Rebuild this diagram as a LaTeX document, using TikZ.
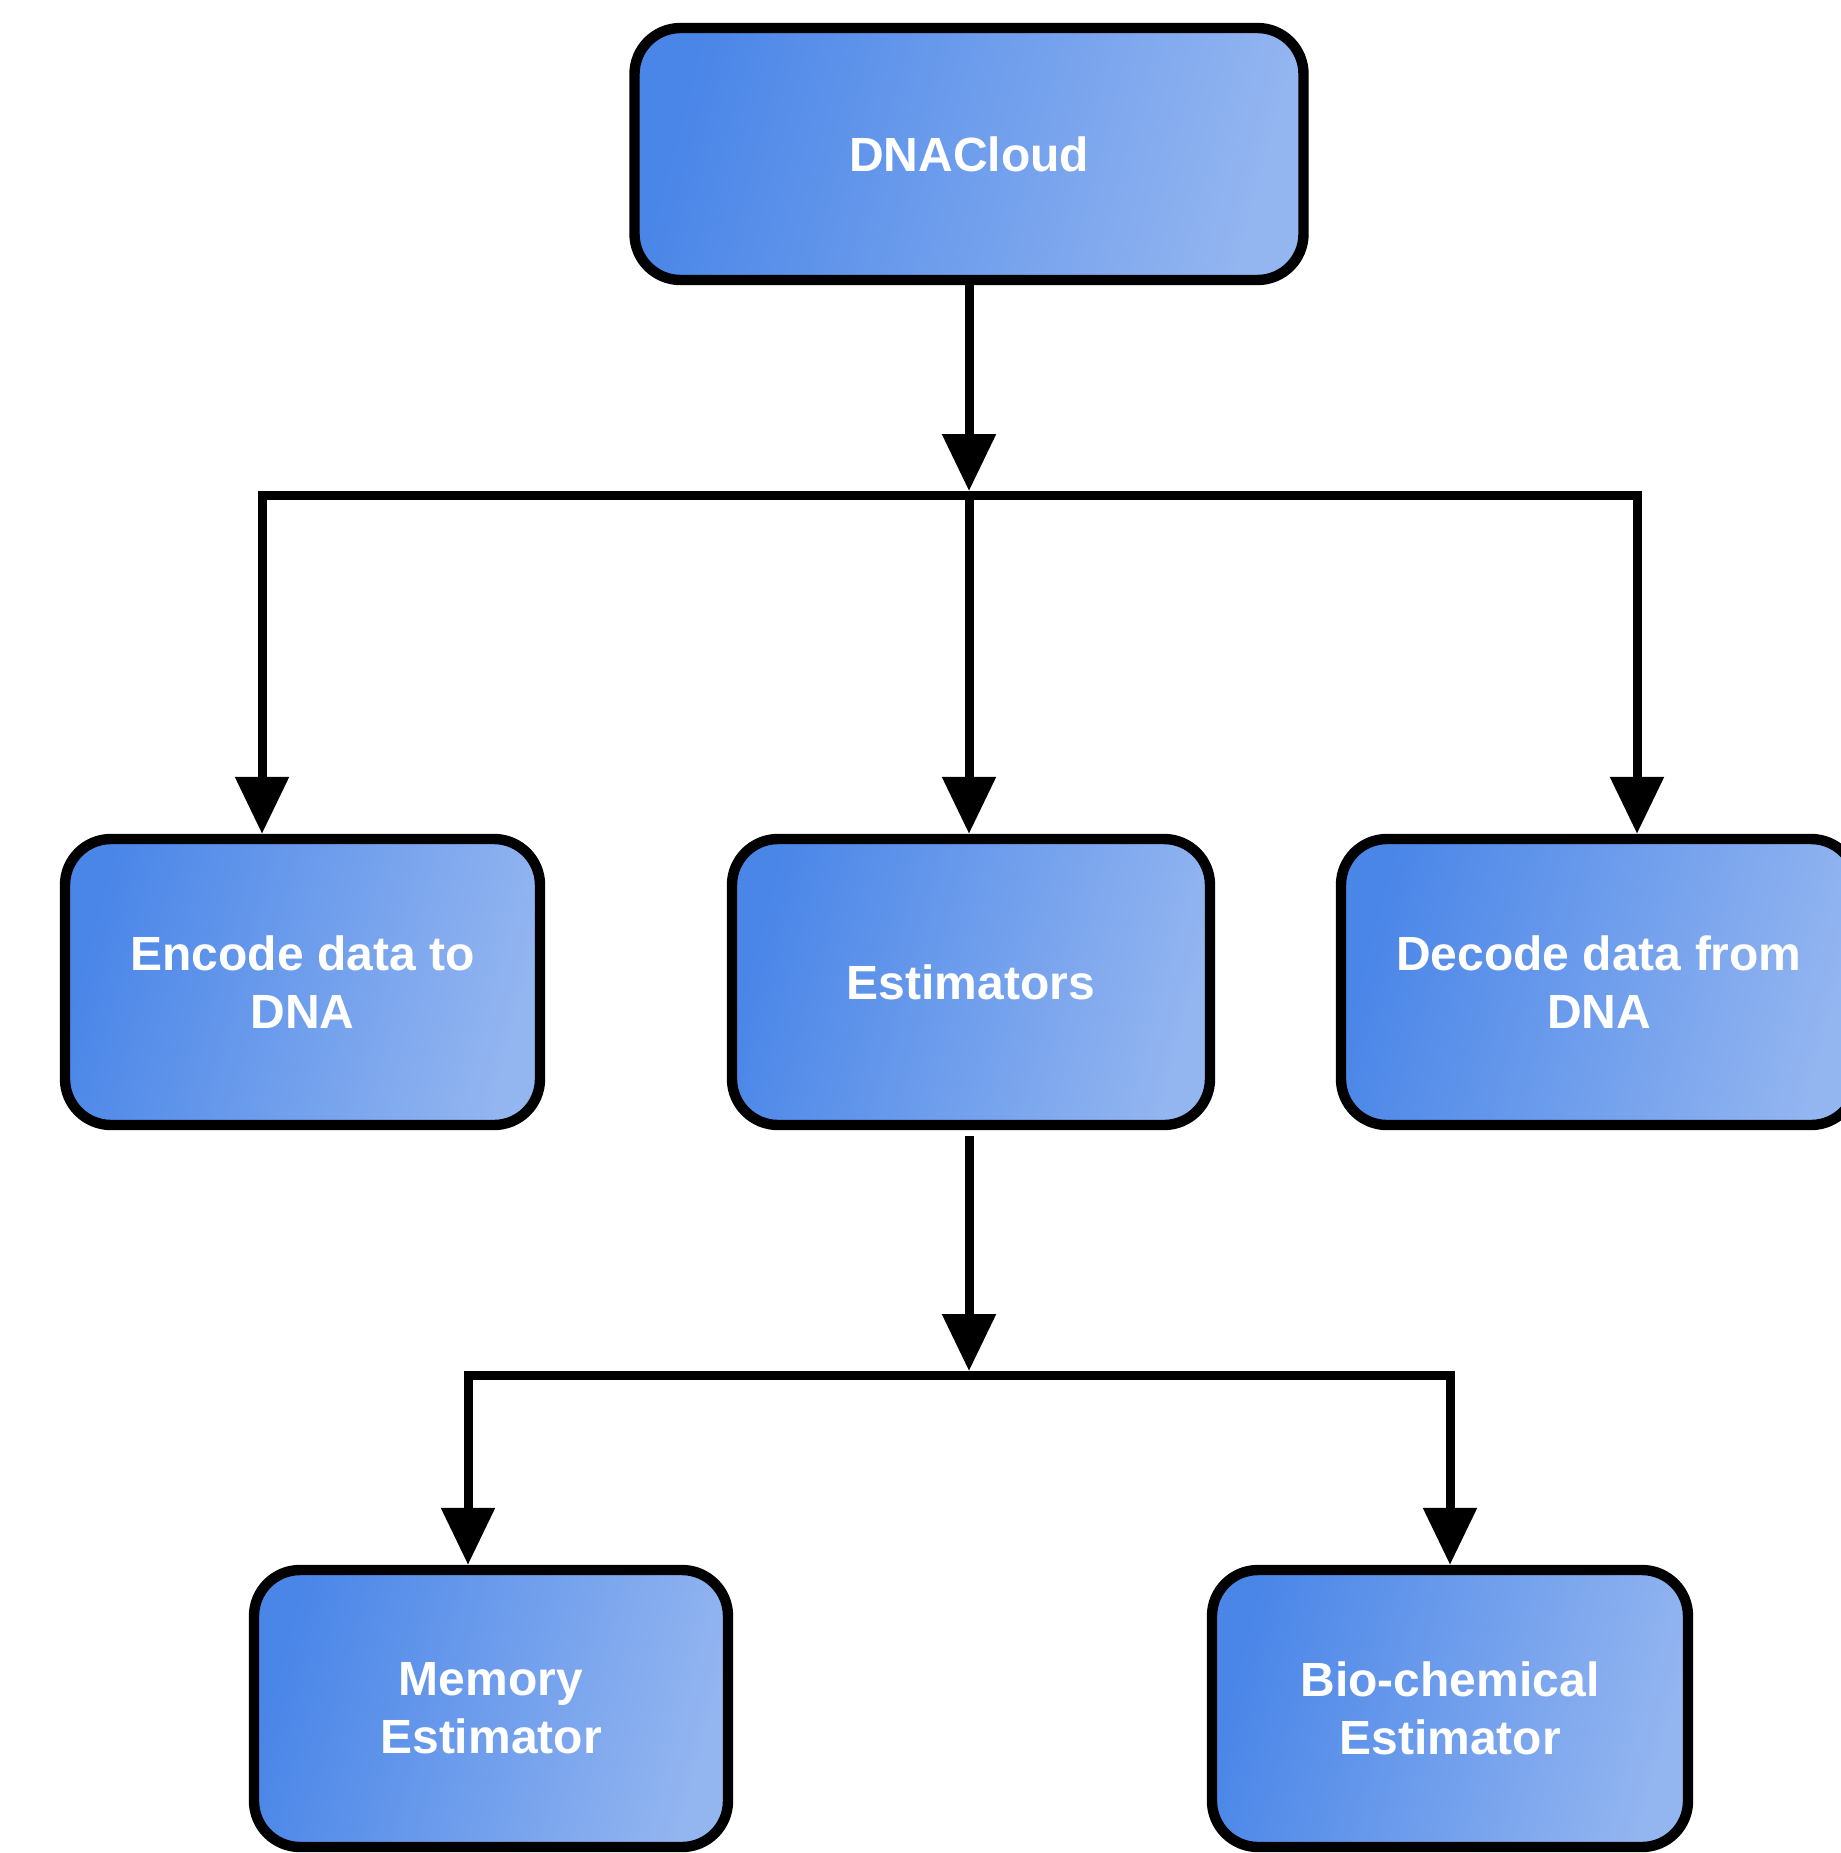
\documentclass[tikz,border=0pt]{standalone}
\usepackage{fontspec}
\setmainfont{Liberation Sans}
\usetikzlibrary{arrows.meta}
\definecolor{boxdark}{HTML}{4A86E8}
\definecolor{boxlight}{HTML}{93B5F0}
\begin{document}
\begin{tikzpicture}[x=0.5pt,y=-0.5pt,
  box/.style={draw=black, line width=5.2pt, rounded corners=23pt, inner sep=0pt,
    left color=boxdark, right color=boxlight, shading angle=75,
    text=white, font=\bfseries\fontsize{24}{29}\selectfont, align=center},
  conn/.style={draw=black, line width=4.5pt},
  arr/.style={conn, -{Triangle[length=28.5pt,width=26pt]}}]
\useasboundingbox (0,0) rectangle (1841,1853);
\fill[white] (0,0) rectangle (1841,1853);
\clip (0,0) rectangle (1841,1853);

\node[box, minimum width=334.5pt, minimum height=126pt] (top) at (969,154) {DNACloud};
\node[box, minimum width=237.5pt, minimum height=143pt] (enc) at (302.5,982) {Encode data to\\DNA};
\node[box, minimum width=239pt, minimum height=143pt] (est) at (971,982) {Estimators};
\node[box, minimum width=258pt, minimum height=143pt] (dec) at (1599,982) {Decode data from\\DNA};
\node[box, minimum width=237pt, minimum height=138.5pt] (mem) at (491,1708.5) {Memory\\Estimator};
\node[box, minimum width=238pt, minimum height=138.5pt] (bio) at (1450,1708.5) {Bio-chemical\\Estimator};

\coordinate (j1) at (969,495);
\coordinate (bl) at (262,495);
\coordinate (br) at (1637,495);
\coordinate (j2) at (969,1375);
\coordinate (bl2) at (468,1375);
\coordinate (br2) at (1450,1375);

\draw[arr, shorten >=2pt] (top.south -| j1) -- (j1);
\draw[arr] (j1) -| (bl |- enc.north);
\draw[arr] (j1) -| (br |- dec.north);
\draw[arr] (j1) -- (j1 |- est.north);
\draw[arr, shorten >=2pt, shorten <=3pt] (j2 |- est.south) -- (j2);
\draw[arr] (j2) -| (bl2 |- mem.north);
\draw[arr] (j2) -| (br2 |- bio.north);
\end{tikzpicture}
\end{document}
